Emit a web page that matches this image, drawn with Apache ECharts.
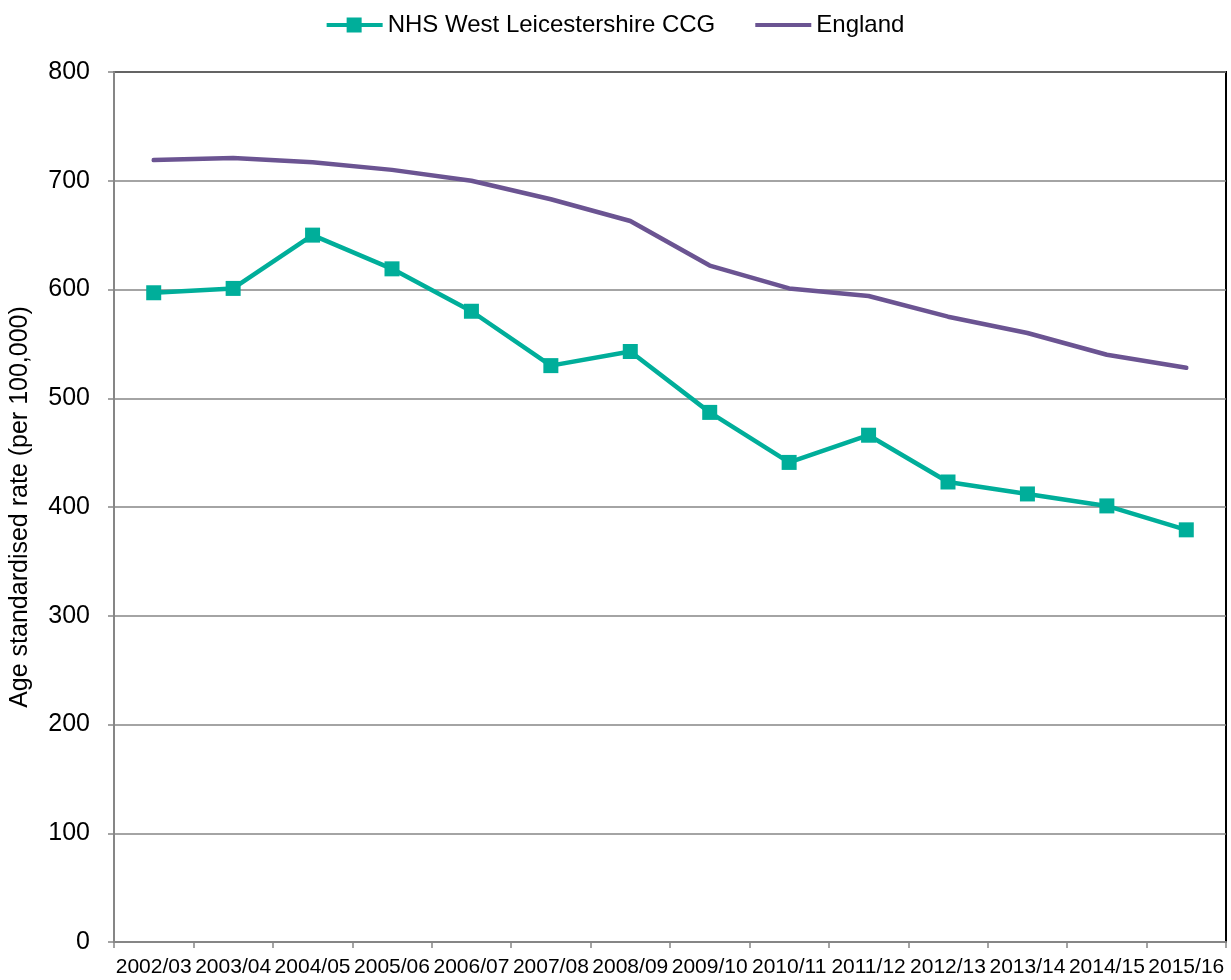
<!DOCTYPE html>
<html>
<head>
<meta charset="utf-8">
<script src="https://cdn.jsdelivr.net/npm/echarts@6/dist/echarts.min.js"></script>
<style>html,body{margin:0;padding:0;background:#fff}#c{width:1231px;height:980px}</style>
</head>
<body>
<div id="c"></div>
<script>
const categories = ['2002/03','2003/04','2004/05','2005/06','2006/07','2007/08','2008/09','2009/10','2010/11','2011/12','2012/13','2013/14','2014/15','2015/16'];
const ccgValues = [597, 601, 650, 619, 580, 530, 543, 487, 441, 466, 423, 412, 401, 379];
const englandValues = [719, 721, 717, 710, 700, 683, 663, 622, 601, 594, 575, 560, 540, 528];
const yTicks = [0, 100, 200, 300, 400, 500, 600, 700, 800];

const chart = echarts.init(document.getElementById('c'), null, {renderer: 'canvas'});
const font = 'Liberation Sans, Arial, sans-serif';
chart.setOption({
  animation: false,
  textStyle: {fontFamily: font},
  legend: {
    top: 8, left: 'center', itemGap: 40, itemWidth: 56, itemHeight: 15,
    textStyle: {fontSize: 24, color: '#000', fontFamily: font},
    data: [
      {name: 'NHS West Leicestershire CCG', icon: 'path://M0,5.5 L20,5.5 L20,0 L35,0 L35,5.5 L56,5.5 L56,9.5 L35,9.5 L35,15 L20,15 L20,9.5 L0,9.5 Z'},
      {name: 'England', icon: 'path://M0,5.5 L56,5.5 L56,9.5 L0,9.5 Z'}
    ]
  },
  grid: {left: 113, right: 5, top: 72, bottom: 38, show: true, borderColor: '#000', borderWidth: 2, containLabel: false},
  xAxis: {
    type: 'category', data: categories, boundaryGap: true,
    axisLine: {lineStyle: {color: '#868686', width: 2}},
    axisTick: {show: true, length: 6, alignWithLabel: false, lineStyle: {color: '#868686', width: 1.5}},
    axisLabel: {fontSize: 21, color: '#000', margin: 15, interval: 0, fontFamily: font}
  },
  yAxis: {
    type: 'value', min: yTicks[0], max: yTicks[yTicks.length - 1], interval: 100,
    name: 'Age standardised rate (per 100,000)', nameLocation: 'middle', nameGap: 81,
    nameTextStyle: {fontSize: 25, color: '#000', fontFamily: font},
    axisLine: {show: true, lineStyle: {color: '#868686', width: 2}},
    axisTick: {show: true, length: 6, lineStyle: {color: '#868686', width: 1.5}},
    axisLabel: {fontSize: 25, color: '#000', margin: 24, fontFamily: font},
    splitLine: {lineStyle: {color: '#868686', width: 1.5}}
  },
  series: [
    {
      name: 'NHS West Leicestershire CCG', type: 'line', data: ccgValues,
      symbol: 'rect', symbolSize: 15, showAllSymbol: true,
      lineStyle: {color: '#00AE9A', width: 4.5},
      itemStyle: {color: '#00AE9A'}, z: 3
    },
    {
      name: 'England', type: 'line', data: englandValues,
      symbol: 'none',
      lineStyle: {color: '#6B5492', width: 4.5, cap: 'round'},
      itemStyle: {color: '#6B5492'}, z: 2
    }
  ]
});
</script>
</body>
</html>
